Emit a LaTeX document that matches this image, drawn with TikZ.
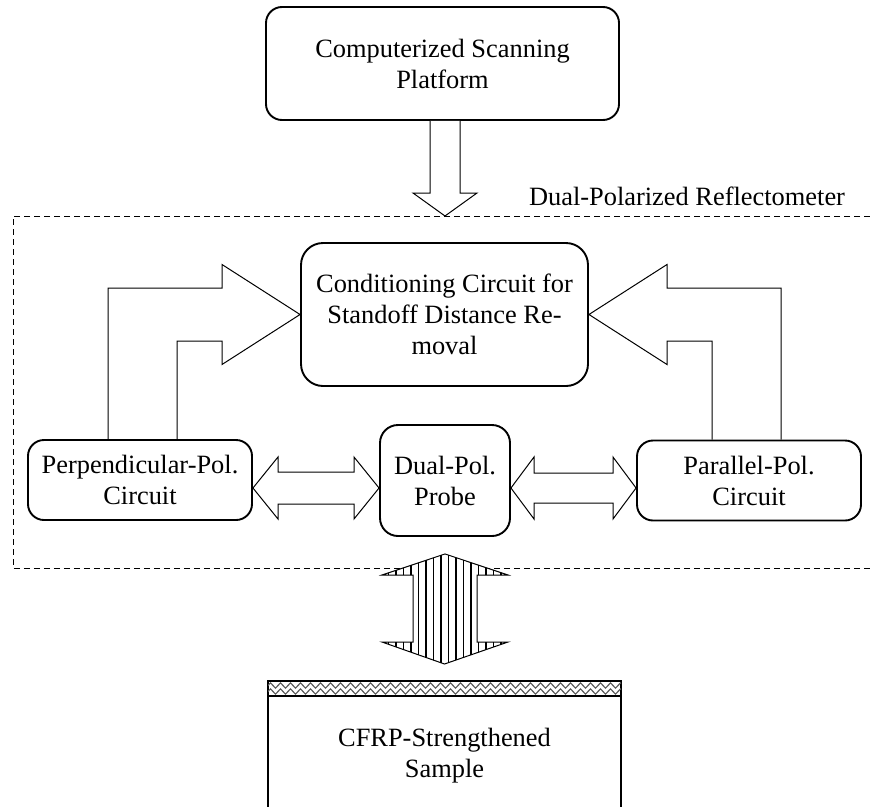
\documentclass[tikz,border=0pt]{standalone}
\usepackage{fontspec}
\setmainfont{Liberation Serif}
\usetikzlibrary{calc,decorations.pathmorphing}
\begin{document}
\begin{tikzpicture}[x=1pt,y=-1pt,
  txt/.style={font=\fontsize{26.4}{31}\selectfont},
  box/.style={draw, line width=1.9pt, rounded corners=16pt, align=center, inner sep=0pt, txt},
  barrow/.style={draw, line width=1pt, line join=miter},
  frame/.style={draw, line width=0.9pt, dash pattern=on 6pt off 4pt},
  zz/.style={black!65, line width=1.1pt, decorate, decoration={zigzag, segment length=10pt, amplitude=2.6pt}},
]
\useasboundingbox (0,0) rectangle (870,806);
\clip (0,0) rectangle (870,806);

% dashed frame and its label
\draw[frame] (880,216) -- (13,216) -- (13,568) -- (880,568);
\node[txt, anchor=base] (lbl) at (687,205) {Dual-Polarized Reflectometer};

% boxes
\node[box, minimum width=353pt, minimum height=113pt] (top) at (442.5,63.5) {Computerized Scanning\\Platform};
\node[box, rounded corners=22pt, minimum width=287pt, minimum height=143pt] (cond) at (444.5,314.5) {Conditioning Circuit for\\Standoff Distance Re-\\moval};
\node[box, minimum width=224pt, minimum height=80pt] (perp) at (140,480) {Perpendicular-Pol.\\Circuit};
\node[box, rounded corners=18pt, minimum width=130pt, minimum height=111pt] (probe) at (445,480.5) {Dual-Pol.\\Probe};
\node[box, minimum width=224pt, minimum height=80pt] (par) at (749,480.5) {Parallel-Pol.\\Circuit};
\node[box, rounded corners=0pt, anchor=north, minimum width=353pt, minimum height=150pt] (sample) at (444.5,680) {CFRP-Strengthened\\Sample};

% CFRP layer
\begin{scope}
  \clip (268,680) rectangle (621,696);
  \draw[zz] (258,685.5) -- (632,685.5);
  \draw[zz] (258,691.5) -- (632,691.5);
\end{scope}
\draw[line width=1.9pt] (sample.north west |- 0,696) -- (sample.north east |- 0,696);

% down arrow from scanning platform
\coordinate (dl) at ($(top.south)+(-12.5,0)$);
\coordinate (dr) at ($(top.south)+(17.5,0)$);
\draw[barrow, fill=white] (dl) -- (430,193) -- (413,193) -- (445,216) -- (477,193) -- (460,193) -- (dr);

% L-shaped arrows into conditioning circuit
\draw[barrow] ($(perp.north)+(-32,0)$) -- (108,288) -- (222,288) -- (222,264.5) -- (cond.west)
  -- (222,364.5) -- (222,341) -- (177,341) -- ($(perp.north)+(37,0)$);
\draw[barrow] ($(par.north)+(32,0)$) -- (781,288) -- (667,288) -- (667,264.5) -- (cond.east)
  -- (667,364.5) -- (667,341) -- (712,341) -- ($(par.north)+(-37,0)$);

% horizontal double arrows
\draw[barrow] ($(perp.east)+(0,8)$) -- (278,457) -- (278,472) -- (354,472) -- (354,457) -- ($(probe.west)+(0,7.5)$)
  -- (354,519) -- (354,504) -- (278,504) -- (278,519) -- cycle;
\draw[barrow] ($(probe.east)+(0,7.5)$) -- (534,457) -- (534,473) -- (613,473) -- (613,457) -- ($(par.west)+(0,7.5)$)
  -- (613,519) -- (613,503) -- (534,503) -- (534,519) -- cycle;

% hatched vertical double arrow
\coordinate (vt) at ($(probe.south)+(0,17)$);
\coordinate (vb) at ($(sample.north)+(0,-16)$);
\fill[white] (vt) -- (508,575) -- (477,575) -- (477,642) -- (508,642) -- (vb) -- (382,642) -- (413,642) -- (413,575) -- (382,575) -- cycle;
\begin{scope}
  \clip (vt) -- (508,575) -- (477,575) -- (477,642) -- (508,642) -- (vb) -- (382,642) -- (413,642) -- (413,575) -- (382,575) -- cycle;
  \foreach \x in {381,388.5,...,510} \draw[line width=1.1pt] (\x,545) -- (\x,670);
\end{scope}
\draw[barrow] (vt) -- (508,575) -- (477,575) -- (477,642) -- (508,642) -- (vb) -- (382,642) -- (413,642) -- (413,575) -- (382,575) -- cycle;
\end{tikzpicture}
\end{document}
